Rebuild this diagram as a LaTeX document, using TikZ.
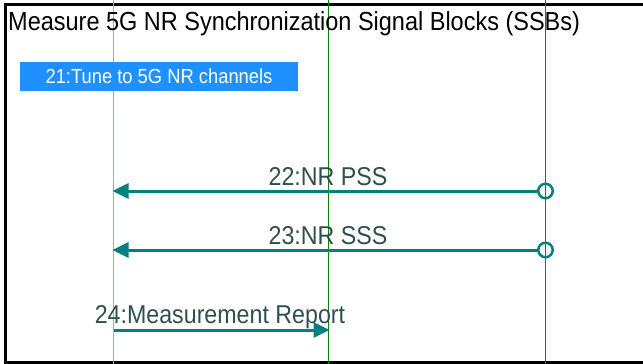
\documentclass[tikz,border=0pt]{standalone}
\usepackage{fontspec}
\setmainfont{Liberation Sans}[FakeStretch=0.9]
\usetikzlibrary{arrows.meta}
\usetikzlibrary{positioning}
\definecolor{msgteal}{RGB}{0,128,128}
\definecolor{msgtext}{RGB}{47,79,79}
\definecolor{tuneblue}{RGB}{30,144,255}
\definecolor{uepink}{RGB}{214,150,160}
\definecolor{measgreen}{RGB}{10,130,10}
\definecolor{gnbred}{RGB}{235,15,55}
\tikzset{
    lifeline/.style={
           line width=1.2pt,
           },
    msg/.style={
           draw=msgteal,
           line width=3pt,
           -{Triangle[length=16pt,width=15pt]},
           shorten >=-1pt,
           },
    msglabel/.style={
           text=msgtext,
           font=\fontsize{25.8}{28}\selectfont,
           inner sep=0pt,
           anchor=base,
           },
    startdot/.style={
           circle,
           draw=msgteal,
           line width=2.5pt,
           minimum size=14.5pt,
           inner sep=0pt,
           },
    tunebox/.style={
           rectangle,
           fill=tuneblue,
           text=white,
           font=\fontsize{20.4}{23}\selectfont,
           minimum width=278pt,
           minimum height=29pt,
           inner sep=0pt,
           },
}
\begin{document}
\begin{tikzpicture}[x=1pt,y=-1pt]
 \useasboundingbox (0,0) rectangle (643,364);
 % frame, open on the right
 \draw[line width=3pt] (660,4.5) -- (5,4.5) -- (5,362) -- (660,362);

 % lifelines
 \coordinate (UEtop) at (113.5,0);
 \coordinate (UEbot) at (113.5,364);
 \coordinate (MEAStop) at (328.5,0);
 \coordinate (MEASbot) at (328.5,364);
 \coordinate (GNBtop) at (545.5,0);
 \coordinate (GNBbot) at (545.5,364);
 \draw[lifeline,color=uepink] (UEtop) -- (UEbot);
 \draw[lifeline,color=measgreen] (MEAStop) -- (MEASbot);
 \draw[lifeline,color=gnbred] (GNBtop) -- (GNBbot);

 \node[anchor=base west,inner sep=0pt,
 font=\fontsize{26.1}{29}\selectfont] (TITLE) at (8,30.5)
 {Measure 5G NR Synchronization Signal Blocks (SSBs)};

 \node[tunebox] (TUNE) at (159,76.5) {21:Tune to 5G NR channels};

 % 22
 \node[startdot] (PSSsrc) at (545.5,191) {};
 \coordinate (PSSdst) at (113.5,191);
 \draw[msg] (PSSsrc) -- (PSSdst);
 \node[msglabel] (PSSlbl) at (328,185.5) {22:NR PSS};

 % 23
 \node[startdot] (SSSsrc) at (545.5,250) {};
 \coordinate (SSSdst) at (113.5,250);
 \draw[msg] (SSSsrc) -- (SSSdst);
 \node[msglabel] (SSSlbl) at (328,244.5) {23:NR SSS};

 % 24
 \coordinate (REPsrc) at (113.5,330);
 \coordinate (REPdst) at (328.5,330);
 \draw[msg] (REPsrc) -- (REPdst);
 \node[msglabel] (REPlbl) at (220,323.5) {24:Measurement Report};
\end{tikzpicture}
\end{document}
